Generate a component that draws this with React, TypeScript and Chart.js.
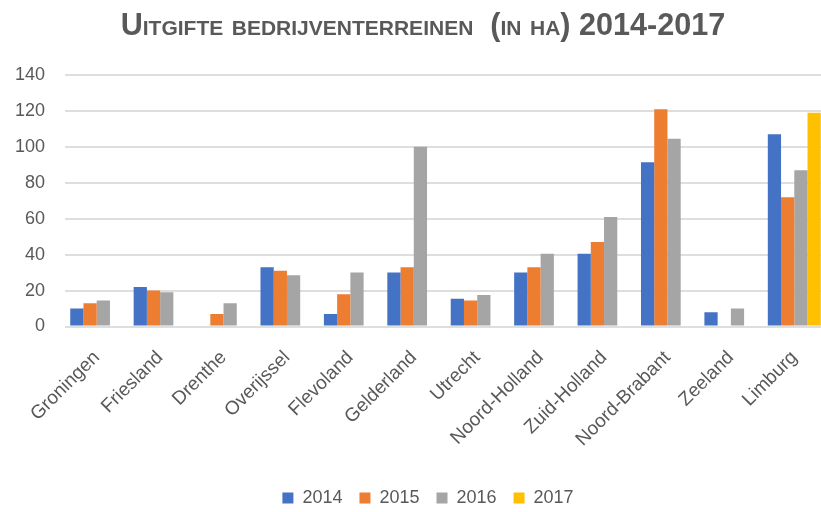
import React, { useEffect, useRef } from 'react';
import { Chart, registerables } from 'chart.js';

Chart.register(...registerables);

const categories = [
  'Groningen', 'Friesland', 'Drenthe', 'Overijssel', 'Flevoland', 'Gelderland',
  'Utrecht', 'Noord-Holland', 'Zuid-Holland', 'Noord-Brabant', 'Zeeland', 'Limburg',
];
const seriesNames = ['2014', '2015', '2016', '2017'];
const values2014 = [10, 22, null, 33, 7, 30, 15.5, 30, 40.5, 91.5, 8, 107];
const values2015 = [13, 20, 7, 31, 18, 33, 14.5, 33, 47, 121, null, 72];
const values2016 = [14.5, 19, 13, 28.5, 30, 100, 17.5, 40.5, 61, 104.5, 10, 87];
const values2017 = [null, null, null, null, null, null, null, null, null, null, null, 119];
const seriesColors = ['#4472C4', '#ED7D31', '#A5A5A5', '#FFC000'];
const yMin = 0;
const yMax = 140;
const yStep = 20;
const titleText = 'Uitgifte bedrijventerreinen  (in ha) 2014-2017';

const FONT = "'Liberation Sans', Arial, sans-serif";
const TEXT = '#595959';

export default function App() {
  const ref = useRef<HTMLCanvasElement | null>(null);

  useEffect(() => {
    if (!ref.current) return;
    const allValues = [values2014, values2015, values2016, values2017];
    const chart = new Chart(ref.current, {
      type: 'bar',
      data: {
        labels: categories,
        datasets: seriesNames.map((name, i) => ({
          label: name,
          data: allValues[i],
          backgroundColor: seriesColors[i],
          borderWidth: 0,
          categoryPercentage: 0.835,
          barPercentage: 1,
          yAxisID: 'y',
        })),
      },
      options: {
        responsive: false,
        animation: false,
        devicePixelRatio: 1,
        layout: { padding: { left: 0, right: 0, top: 75, bottom: 0 } },
        plugins: {
          title: { display: false },
          tooltip: { enabled: false },
          legend: {
            position: 'bottom',
            labels: {
              boxWidth: 11,
              boxHeight: 11,
              padding: 17,
              color: TEXT,
              font: { family: FONT, size: 18 },
            },
          },
        },
        scales: {
          x: {
            grid: { display: false },
            border: { display: false },
            ticks: {
              color: TEXT,
              font: { family: FONT, size: 19 },
              minRotation: 45,
              maxRotation: 45,
              autoSkip: false,
              padding: 12,
            },
            afterFit: (scale: any) => {
              scale.height = 145.5;
            },
          },
          y: {
            position: 'left',
            min: yMin,
            max: yMax,
            border: { display: false },
            grid: { color: '#dedede', lineWidth: 2, drawTicks: false },
            ticks: {
              stepSize: yStep,
              color: TEXT,
              font: { family: FONT, size: 18 },
              padding: 20,
            },
            afterFit: (scale: any) => {
              scale.width = 65;
            },
          },
          yRight: {
            type: 'linear',
            position: 'right',
            display: true,
            grid: { display: false },
            border: { display: false },
            ticks: { display: false },
            afterFit: (scale: any) => {
              scale.width = 30;
            },
          },
        },
      },
    });
    return () => chart.destroy();
  }, []);

  return (
    <div
      style={{
        position: 'absolute',
        left: 0,
        top: 0,
        width: 821,
        height: 512,
        overflow: 'hidden',
        background: '#ffffff',
      }}
    >
      <canvas
        ref={ref}
        width={856}
        height={517}
        style={{ position: 'absolute', left: 0, top: 0, width: 856, height: 517 }}
      />
      <div
        style={{
          position: 'absolute',
          left: 0,
          top: 9,
          width: 846,
          textAlign: 'center',
          fontFamily: FONT,
          fontWeight: 'bold',
          fontSize: 30.6,
          lineHeight: 1,
          fontVariant: 'small-caps',
          color: TEXT,
          whiteSpace: 'pre',
        }}
      >
        {titleText}
      </div>
    </div>
  );
}
